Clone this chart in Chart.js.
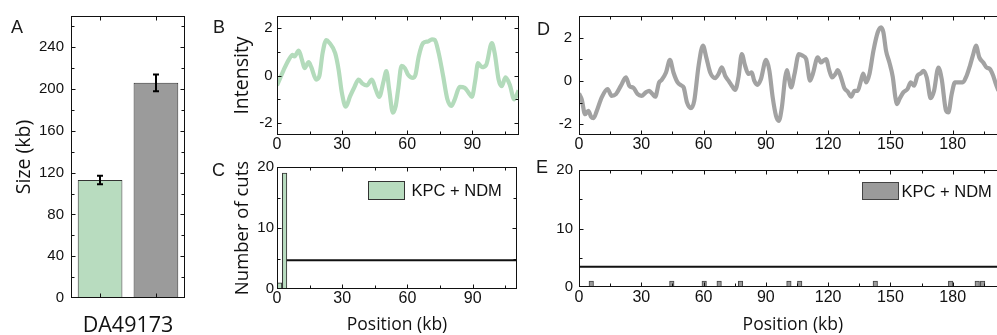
<!DOCTYPE html>
<html>
<head>
<meta charset="utf-8">
<script src="https://cdn.jsdelivr.net/npm/chart.js@4.4.0/dist/chart.umd.min.js"></script>
<style>
html,body{margin:0;padding:0;background:#fff;overflow:hidden;width:997px;height:335px;position:relative;}
canvas{position:absolute;}
.lbl{position:absolute;font-family:"Liberation Sans",Arial,sans-serif;font-size:18px;line-height:18px;color:#1a1a1a;}
</style>
</head>
<body>
<canvas id="cA" width="200" height="335" style="left:0;top:0"></canvas>
<canvas id="cB" width="330" height="155" style="left:200px;top:0"></canvas>
<canvas id="cC" width="330" height="185" style="left:200px;top:150px"></canvas>
<canvas id="cD" width="490" height="155" style="left:530px;top:0"></canvas>
<canvas id="cE" width="490" height="185" style="left:530px;top:150px"></canvas>
<div class="lbl" style="left:11px;top:18px">A</div>
<div class="lbl" style="left:213px;top:18px">B</div>
<div class="lbl" style="left:212px;top:161px">C</div>
<div class="lbl" style="left:537px;top:20px">D</div>
<div class="lbl" style="left:536px;top:158px">E</div>
<script>
// ---------- DATA ----------
const groupLabels = ["DA49173"];
const sizeGreen = [113];
const sizeGreenErr = [4];
const sizeGray = [206];
const sizeGrayErr = [8];
const sizeTicks = [0, 40, 80, 120, 160, 200, 240];
const sizeMinorTicks = [20, 60, 100, 140, 180, 220, 260];

const posB = [0, 1.5, 3.1, 5.4, 7.2, 8.1, 10.0, 11.5, 12.7, 14.6, 15.8, 18.1, 19.5, 21.0, 22.7, 24.1, 26.8, 28.4, 29.9, 31.7, 33.7, 35.7, 37.6, 39.4, 41.4, 43.7, 45.5, 47.1, 49.1, 50.4, 51.7, 53.4, 54.7, 55.8, 57.4, 58.9, 60.4, 62.7, 63.8, 65.3, 67.3, 69.6, 71.4, 72.7, 74.5, 76.5, 78.5, 80.3, 81.9, 84.2, 86.5, 88.3, 89.8, 91.4, 92.6, 94.4, 96.4, 99.0, 100.3, 102.1, 103.5, 105.3, 107.2, 109.3, 111.3];
const intensityB = [-0.42, -0.1, 0.24, 0.66, 0.87, 0.80, 1.05, 0.66, 0.31, 0.56, 0.35, -0.17, -0.03, 0.94, 1.49, 1.38, 0.94, 0.24, -0.73, -1.31, -0.87, -0.48, -0.17, -0.34, -0.42, -0.17, -0.59, -0.90, -0.24, 0.18, -0.59, -1.56, -1.28, -0.6, 0.41, 0.31, 0.03, -0.10, 0.03, 0.80, 1.36, 1.43, 1.52, 1.49, 0.94, 0.0, -1.0, -1.28, -1.0, -0.48, -0.52, -0.73, -0.90, -0.17, 0.52, 0.35, 0.45, 1.36, 0.94, -0.17, -0.45, -0.08, -0.38, -1.0, -0.63];

const posD = [0, 1.3, 2.9, 4.5, 5.8, 7.0, 8.6, 10.9, 13.8, 15.7, 17.8, 20.2, 22.6, 24.2, 26.3, 28.2, 30.1, 32.2, 33.8, 35.4, 36.7, 38.6, 39.8, 41.9, 43.8, 45.5, 47.5, 49.4, 50.4, 52.0, 53.9, 55.5, 57.6, 59.7, 61.3, 63.2, 65.6, 67.2, 68.8, 70.4, 72.0, 73.6, 75.2, 76.8, 78.4, 80.0, 81.6, 83.2, 84.4, 85.9, 87.6, 90.1, 91.7, 93.3, 94.9, 96.2, 97.7, 99.3, 100.2, 101.0, 102.2, 103.8, 105.9, 107.8, 109.4, 111.3, 112.6, 115.0, 116.6, 117.7, 119.0, 120.6, 121.9, 123.5, 124.6, 126.2, 127.8, 129.4, 131.1, 132.7, 134.2, 135.8, 136.9, 138.3, 139.9, 141.8, 143.9, 145.5, 146.6, 147.9, 149.5, 151.1, 152.4, 153.2, 154.3, 156.2, 158.2, 159.8, 161.4, 163.0, 164.6, 165.9, 167.5, 169.4, 171.0, 173.1, 174.7, 176.8, 177.9, 179.5, 181.1, 182.7, 184.8, 186.7, 188.3, 189.9, 191.2, 192.8, 194.7, 196.3, 197.9, 199.5, 200.8, 202.0];
const intensityD = [-0.58, -0.85, -1.54, -1.38, -1.66, -1.72, -1.38, -0.77, -0.38, -0.69, -0.61, -0.22, 0.16, -0.22, -0.33, -0.61, -0.69, -0.53, -0.46, -0.61, -0.73, -0.07, 0.04, 0.39, 0.97, 0.39, -0.07, -0.22, -0.30, -0.99, -1.26, -0.92, 0.70, 1.63, 1.09, 0.39, 0.13, 0.32, 0.63, 0.24, 0.01, -0.22, -0.42, 0.16, 1.24, 0.70, 0.32, 0.39, 0.01, -0.18, 0.08, 0.97, 0.47, -0.77, -1.62, -1.85, -1.23, 0.16, 0.50, 0.16, -0.30, 0.32, 1.24, 1.16, 1.01, 0.01, 0.32, 1.09, 0.85, 0.93, 1.01, 0.47, 0.16, 0.32, 0.50, 0.16, -0.33, -0.49, -0.73, -0.46, -0.46, 0.01, 0.34, -0.07, 0.32, 1.39, 2.25, 2.48, 2.25, 1.39, 0.85, 0.20, -0.77, -1.07, -0.85, -0.53, -0.38, -0.07, -0.22, 0.24, 0.35, 0.47, 0.16, -0.80, -0.46, 0.62, 0.08, -1.38, -1.46, -0.61, -0.07, -0.07, -0.07, 0.24, 0.70, 1.24, 1.63, 1.09, 0.85, 0.62, 0.55, 0.24, -0.15, -0.45];

const cutPosC = [1.2, 3.5];
const cutCountC = [1, 19];
const thresholdC = 4.7;
const thresholdStartC = 4.5;

const cutPosE = [5.9, 44.7, 60.3, 67.5, 77.8, 101.1, 106.3, 142.7, 179.0, 191.8, 194.4];
const cutCountE = [1, 1, 1, 1, 1, 1, 1, 1, 1, 1, 1];
const thresholdE = 3.45;
const thresholdStartE = 0;

const posTicksB = [0, 30, 60, 90];
const posMinorB = [15, 45, 75, 105];
const posTicksD = [0, 30, 60, 90, 120, 150, 180];
const posMinorD = [15, 45, 75, 105, 135, 165, 195];
const intensityTicks = [-2, 0, 2];
const intensityMinor = [-1, 1];
const cutTicks = [0, 10, 20];
const cutMinor = [5, 15];

const seriesName = "KPC + NDM";

// ---------- STYLE ----------
const ARIAL = '"Liberation Sans", Arial, Helvetica, sans-serif';
const OPEN = '"Open Sans", "Noto Sans", sans-serif';
const INK = '#111111';
const GREEN = '#b8dcbf';
const GREEN_LINE = '#b3dbbb';
const GRAY = '#9b9b9b';
const GRAY_LINE = '#a2a2a2';

Chart.defaults.animation = false;
Chart.defaults.color = INK;

function frameTicks(cfg) {
  return {
    id: 'frameTicks',
    afterDatasetsDraw(chart) {
      const {ctx, chartArea: a} = chart;
      const xs = chart.scales.x, ys = chart.scales.y;
      ctx.save();
      ctx.strokeStyle = INK;
      ctx.lineWidth = 1;
      const L = Math.round(a.left) + 0.5, R = Math.round(a.right) - 0.5;
      const T = Math.round(a.top) + 0.5, B = Math.round(a.bottom) - 0.5;
      ctx.strokeRect(L, T, R - L, B - T);
      ctx.beginPath();
      const xt = (px, len) => {
        if (px <= a.left + 1 || px >= a.right - 1) return;
        const p = Math.round(px) + 0.5;
        ctx.moveTo(p, B); ctx.lineTo(p, B - len);
        ctx.moveTo(p, T); ctx.lineTo(p, T + len);
      };
      const yt = (py, len) => {
        if (py <= a.top + 1 || py >= a.bottom - 1) return;
        const p = Math.round(py) + 0.5;
        ctx.moveTo(L, p); ctx.lineTo(L + len, p);
        ctx.moveTo(R, p); ctx.lineTo(R - len, p);
      };
      if (cfg.barsX) {
        chart.data.datasets.forEach((d, i) => {
          chart.getDatasetMeta(i).data.forEach(el => xt(el.x, 4));
        });
      } else {
        (cfg.xMajor || []).forEach(v => xt(xs.getPixelForValue(v), 4));
        (cfg.xMinor || []).forEach(v => xt(xs.getPixelForValue(v), 3));
      }
      (cfg.yMajor || []).forEach(v => yt(ys.getPixelForValue(v), 4));
      (cfg.yMinor || []).forEach(v => yt(ys.getPixelForValue(v), 3));
      ctx.stroke();
      ctx.restore();
    }
  };
}

function errorBars() {
  return {
    id: 'errorBars',
    afterDatasetsDraw(chart) {
      const {ctx} = chart;
      const ys = chart.scales.y;
      ctx.save();
      ctx.strokeStyle = '#000';
      ctx.lineWidth = 2;
      chart.data.datasets.forEach((d, i) => {
        if (!d.errors) return;
        chart.getDatasetMeta(i).data.forEach((el, j) => {
          const v = d.data[j], e = d.errors[j];
          const x = Math.round(el.x);
          const y1 = ys.getPixelForValue(v + e), y2 = ys.getPixelForValue(v - e);
          ctx.beginPath();
          ctx.moveTo(x, y1); ctx.lineTo(x, y2);
          ctx.moveTo(x - 3, y1); ctx.lineTo(x + 3, y1);
          ctx.moveTo(x - 3, y2); ctx.lineTo(x + 3, y2);
          ctx.stroke();
        });
      });
      ctx.restore();
    }
  };
}

function boxLegend(cfg) {
  return {
    id: 'boxLegend',
    afterDraw(chart) {
      const {ctx, chartArea: a} = chart;
      const ds = chart.data.datasets[cfg.index];
      const x = Math.round(a.left + cfg.dx) + 0.5, y = Math.round(a.top + cfg.dy) + 0.5;
      ctx.save();
      ctx.fillStyle = ds.backgroundColor;
      ctx.fillRect(x, y, cfg.w, cfg.h);
      ctx.strokeStyle = ds.borderColor;
      ctx.lineWidth = 1;
      ctx.strokeRect(x, y, cfg.w, cfg.h);
      ctx.fillStyle = INK;
      ctx.font = '16.5px ' + ARIAL;
      ctx.textBaseline = 'middle';
      ctx.textAlign = 'left';
      ctx.fillText(ds.label, x + cfg.w + cfg.gap, y + cfg.h / 2 + 1);
      ctx.restore();
    }
  };
}

const noGrid = {display: false, drawTicks: false};
const noBorder = {display: false};
const fixedTicks = arr => (s => { s.ticks = arr.map(v => ({value: v})); });
const basePlugins = {legend: {display: false}, tooltip: {enabled: false}};

// ---------- A ----------
new Chart(document.getElementById('cA'), {
  type: 'bar',
  data: {
    labels: groupLabels,
    datasets: [
      {label: 'Plasmid 1', data: sizeGreen, errors: sizeGreenErr, backgroundColor: GREEN, borderColor: '#333', borderWidth: 1, categoryPercentage: 0.98, barPercentage: 0.8},
      {label: 'Plasmid 2', data: sizeGray, errors: sizeGrayErr, backgroundColor: GRAY, borderColor: '#333', borderWidth: 1, categoryPercentage: 0.98, barPercentage: 0.8}
    ]
  },
  options: {
    responsive: false,
    layout: {padding: {left: 0, top: 16, right: 15, bottom: 0}},
    plugins: basePlugins,
    scales: {
      x: {grid: noGrid, border: noBorder,
          ticks: {font: {family: OPEN, size: 21.5, lineHeight: 1}, padding: 17, color: INK},
          afterFit: s => { s.height = 37; }},
      y: {min: 0, max: 270, grid: noGrid, border: noBorder, afterBuildTicks: fixedTicks(sizeTicks),
          ticks: {font: {family: ARIAL, size: 15}, padding: 7, color: INK},
          title: {display: true, text: 'Size (kb)', font: {family: OPEN, size: 19.5, lineHeight: 1}, padding: {top: 14.5, bottom: 0}, color: INK},
          afterFit: s => { s.width = 71; }}
    }
  },
  plugins: [errorBars(), frameTicks({barsX: true, yMajor: sizeTicks, yMinor: sizeMinorTicks})]
});

// ---------- B ----------
new Chart(document.getElementById('cB'), {
  type: 'line',
  data: {datasets: [{label: 'Intensity', data: posB.map((x, i) => ({x, y: intensityB[i]})),
    borderColor: GREEN_LINE, borderWidth: 4.2, pointRadius: 0, cubicInterpolationMode: 'monotone', fill: false}]},
  options: {
    responsive: false,
    layout: {padding: {left: 0, top: 16, right: 11, bottom: 0}},
    plugins: basePlugins,
    scales: {
      x: {type: 'linear', min: 0, max: 111.5, grid: noGrid, border: noBorder, afterBuildTicks: fixedTicks(posTicksB),
          ticks: {font: {family: ARIAL, size: 16, lineHeight: 1}, padding: 2, color: INK},
          afterFit: s => { s.height = 20; }},
      y: {min: -2.5, max: 2.5, grid: noGrid, border: noBorder, afterBuildTicks: fixedTicks(intensityTicks),
          ticks: {font: {family: ARIAL, size: 15}, padding: 4.5, color: INK},
          title: {display: true, text: 'Intensity', font: {family: OPEN, size: 19.5, lineHeight: 1}, padding: {top: 33, bottom: 0}, color: INK},
          afterFit: s => { s.width = 77; }}
    }
  },
  plugins: [frameTicks({xMajor: posTicksB, xMinor: posMinorB, yMajor: intensityTicks, yMinor: intensityMinor})]
});

// ---------- C ----------
new Chart(document.getElementById('cC'), {
  type: 'bar',
  data: {datasets: [
    {type: 'bar', label: seriesName, data: cutPosC.map((x, i) => ({x, y: cutCountC[i]})),
      backgroundColor: GREEN, borderColor: '#333', borderWidth: 1, barThickness: 4.5, order: 2},
    {type: 'line', label: 'threshold', data: [{x: thresholdStartC, y: thresholdC}, {x: 110.4, y: thresholdC}],
      borderColor: '#111', borderWidth: 2, pointRadius: 0, order: 1}
  ]},
  options: {
    responsive: false,
    layout: {padding: {left: 0, top: 17, right: 13, bottom: 0}},
    plugins: basePlugins,
    scales: {
      x: {type: 'linear', min: 0, max: 110.4, offset: false, grid: {display: false, drawTicks: false, offset: false}, border: noBorder,
          afterBuildTicks: fixedTicks(posTicksB),
          ticks: {font: {family: ARIAL, size: 16, lineHeight: 1}, padding: 2, color: INK},
          title: {display: true, text: 'Position (kb)', font: {family: OPEN, size: 17.5, lineHeight: 1}, padding: {top: 0, bottom: 1}, color: INK},
          afterFit: s => { s.height = 46; }},
      y: {min: 0, max: 20, grid: noGrid, border: noBorder, afterBuildTicks: fixedTicks(cutTicks),
          ticks: {font: {family: ARIAL, size: 15}, padding: 3, color: INK},
          title: {display: true, text: 'Number of cuts', font: {family: OPEN, size: 18.5, lineHeight: 1}, padding: {top: 33, bottom: 0}, color: INK},
          afterFit: s => { s.width = 77; }}
    }
  },
  plugins: [frameTicks({xMajor: posTicksB, xMinor: posMinorB, yMajor: cutTicks, yMinor: cutMinor}),
            boxLegend({index: 0, dx: 90.7, dy: 14, w: 36, h: 18, gap: 7})]
});

// ---------- D ----------
new Chart(document.getElementById('cD'), {
  type: 'line',
  data: {datasets: [{label: 'Intensity', data: posD.map((x, i) => ({x, y: intensityD[i]})),
    borderColor: GRAY_LINE, borderWidth: 4.2, pointRadius: 0, cubicInterpolationMode: 'monotone', fill: false}]},
  options: {
    responsive: false,
    layout: {padding: {left: 0, top: 15, right: 13.3, bottom: 0}},
    plugins: basePlugins,
    scales: {
      x: {type: 'linear', min: 0, max: 206, grid: noGrid, border: noBorder, afterBuildTicks: fixedTicks(posTicksD),
          ticks: {font: {family: ARIAL, size: 16, lineHeight: 1}, padding: 2, color: INK},
          afterFit: s => { s.height = 20; }},
      y: {min: -2.5, max: 3, grid: noGrid, border: noBorder, afterBuildTicks: fixedTicks(intensityTicks),
          ticks: {font: {family: ARIAL, size: 15}, padding: 7, color: INK},
          afterFit: s => { s.width = 49; }}
    }
  },
  plugins: [frameTicks({xMajor: posTicksD, xMinor: posMinorD, yMajor: intensityTicks, yMinor: intensityMinor})]
});

// ---------- E ----------
new Chart(document.getElementById('cE'), {
  type: 'bar',
  data: {datasets: [
    {type: 'bar', label: seriesName, data: cutPosE.map((x, i) => ({x, y: cutCountE[i]})),
      backgroundColor: GRAY, borderColor: '#444', borderWidth: 1, barThickness: 4.5, order: 2},
    {type: 'line', label: 'threshold', data: [{x: thresholdStartE, y: thresholdE}, {x: 206, y: thresholdE}],
      borderColor: '#111', borderWidth: 2, pointRadius: 0, order: 1}
  ]},
  options: {
    responsive: false,
    layout: {padding: {left: 0, top: 20, right: 13.3, bottom: 0}},
    plugins: basePlugins,
    scales: {
      x: {type: 'linear', min: 0, max: 206, offset: false, grid: {display: false, drawTicks: false, offset: false}, border: noBorder,
          afterBuildTicks: fixedTicks(posTicksD),
          ticks: {font: {family: ARIAL, size: 16, lineHeight: 1}, padding: 3, color: INK},
          title: {display: true, text: 'Position (kb)', font: {family: OPEN, size: 17.5, lineHeight: 1}, padding: {top: 0, bottom: 1}, color: INK},
          afterFit: s => { s.height = 48; }},
      y: {min: 0, max: 20, grid: noGrid, border: noBorder, afterBuildTicks: fixedTicks(cutTicks),
          ticks: {font: {family: ARIAL, size: 15}, padding: 6, color: INK},
          afterFit: s => { s.width = 49; }}
    }
  },
  plugins: [frameTicks({xMajor: posTicksD, xMinor: posMinorD, yMajor: cutTicks, yMinor: cutMinor}),
            boxLegend({index: 0, dx: 282.7, dy: 12, w: 36, h: 17, gap: 3})]
});
</script>
</body>
</html>
